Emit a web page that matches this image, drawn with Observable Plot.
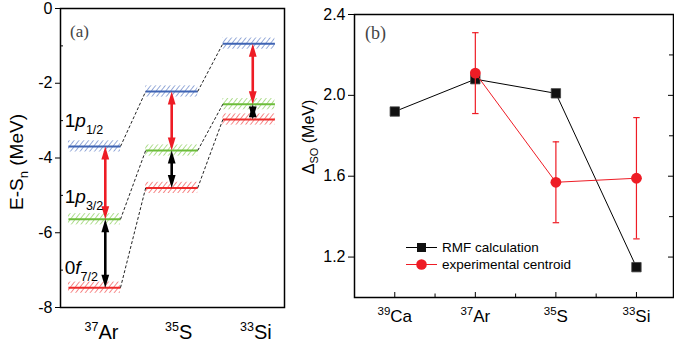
<!DOCTYPE html>
<html>
<head>
<meta charset="utf-8">
<script src="https://cdn.jsdelivr.net/npm/d3@7"></script>
<script src="https://cdn.jsdelivr.net/npm/@observablehq/plot@0.6"></script>
<style>
html,body{margin:0;padding:0;background:#fff;}
#root{position:relative;width:674px;height:347px;overflow:hidden;font-family:"Liberation Sans",Arial,sans-serif;color:#000;}
#root svg.plot{position:absolute;top:0;overflow:visible;}
.ylab{position:absolute;white-space:nowrap;line-height:1;transform:translate(-50%,-50%) rotate(-90deg);}
.tag{position:absolute;font-family:"Liberation Serif","Times New Roman",serif;color:#444;line-height:1;}
.legend{position:absolute;left:406px;top:239px;font-size:13.5px;line-height:17px;}
.legend .row{display:flex;align-items:center;height:17px;}
.legend svg{margin-right:5px;}
</style>
</head>
<body>
<div id="root"></div>
<script>
// ---------- Panel (a): single-particle levels (E - S_n, MeV) ----------
const nucleiA = ["37Ar", "35S", "33Si"];
const massA = ["37", "35", "33"];
const elementA = ["Ar", "S", "Si"];
const levelNames = ["1p1/2", "1p3/2", "0f7/2"];
const levelMain = ["1p", "1p", "0f"];
const levelSub = ["1/2", "3/2", "7/2"];
const level1p12 = [-3.69, -2.22, -0.94];
const level1p32 = [-5.64, -3.80, -2.56];
const level0f72 = [-7.47, -4.80, -2.97];
const yTicksA = [0, -2, -4, -6, -8];
const yMinorA = [-1, -3, -5, -7];

// ---------- Panel (b): spin-orbit splitting Delta_SO (MeV) ----------
const nucleiB = ["39Ca", "37Ar", "35S", "33Si"];
const massB = ["39", "37", "35", "33"];
const elementB = ["Ca", "Ar", "S", "Si"];
const rmfDelta = [1.92, 2.08, 2.01, 1.15];
const expNuclei = ["37Ar", "35S", "33Si"];
const expDelta = [2.11, 1.57, 1.59];
const expError = [0.20, 0.20, 0.30];
const yTicksB = [1.2, 1.6, 2.0, 2.4];
const yMinorB = [1.4, 1.8, 2.2];
const seriesNames = ["RMF calculation", "experimental centroid"];

// ---------- styling / layout constants ----------
const levelLine = ["#3f64b4", "#6cbd3a", "#ee2a2a"];
const levelHatch = ["#5f7ec4", "#86cc55", "#f24a4a"];
const arrowRed = "#ee1c25";
const HW = 0.337, BAND = 0.15;
const arrowShift = [0.14, 0, 0.05];
const labelDy = [-19, -16, -14];

const levelArrays = [level1p12, level1p32, level0f72];
const levels = [];
levelArrays.forEach((arr, k) => arr.forEach((v, i) => levels.push({k, i, v, name: levelNames[k]})));
const connectors = [];
levelArrays.forEach((arr, k) => {
  for (let i = 0; i < arr.length - 1; i++)
    connectors.push({k, x1: i + HW, y1: arr[i], x2: i + 1 - HW, y2: arr[i + 1]});
});
const arrows = [];
nucleiA.forEach((n, i) => {
  arrows.push({i, top: level1p12[i], bottom: level1p32[i], color: arrowRed});
  arrows.push({i, top: level1p32[i], bottom: level0f72[i], color: "#000"});
});
const headUp = {draw(ctx) { ctx.moveTo(0, 0); ctx.lineTo(3.9, 13); ctx.lineTo(-3.9, 13); ctx.closePath(); }};
const headDown = {draw(ctx) { ctx.moveTo(0, 0); ctx.lineTo(3.9, -13); ctx.lineTo(-3.9, -13); ctx.closePath(); }};
const shrink = 0.15;

const root = document.getElementById("root");

function textNodes(svg, label) {
  return Array.from(svg.querySelectorAll(`[aria-description="${label}"] text`));
}

const HA = 347, MTa = 8, MBa = 40, WA = 300, MLa = 60, MRa = 16;
const svgA = Plot.plot({
  width: WA, height: HA, marginLeft: MLa, marginRight: MRa, marginTop: MTa, marginBottom: MBa,
  style: {fontFamily: "Liberation Sans, Arial, sans-serif", fontSize: "16px", color: "#000", background: "transparent"},
  x: {domain: [-0.44, 2.461], axis: null},
  y: {domain: [-8, 0], axis: null},
  marks: [
    ...[0, 1, 2].map(k => Plot.rect(levels.filter(d => d.k === k), {
      x1: d => d.i - HW, x2: d => d.i + HW, y1: d => d.v - BAND, y2: d => d.v + BAND, fill: `url(#hatch-${k})`
    })),
    Plot.link(levels, {x1: d => d.i - HW, x2: d => d.i + HW, y1: d => d.v, y2: d => d.v,
      stroke: d => levelLine[d.k], strokeWidth: 2}),
    Plot.link(connectors, {x1: "x1", y1: "y1", x2: "x2", y2: "y2", stroke: "#222", strokeWidth: 1, strokeDasharray: "3,2"}),
    Plot.link(arrows, {x1: d => d.i + arrowShift[d.i], x2: d => d.i + arrowShift[d.i],
      y1: d => d.top - Math.min(shrink, (d.top - d.bottom) / 3), y2: d => d.bottom + Math.min(shrink, (d.top - d.bottom) / 3),
      stroke: d => d.color, strokeWidth: 2.6}),
    Plot.dot(arrows, {x: d => d.i + arrowShift[d.i], y: "top", symbol: headUp, fill: d => d.color, stroke: "none"}),
    Plot.dot(arrows, {x: d => d.i + arrowShift[d.i], y: "bottom", symbol: headDown, fill: d => d.color, stroke: "none"}),
    Plot.axisY({ticks: yTicksA, tickFormat: d => String(d), tickSize: 5, tickPadding: 3, fontSize: 16, label: null}),
    Plot.tickY(yMinorA, {y: d => d, insetRight: (WA - MLa - MRa) - 3, stroke: "#000"}),
    Plot.frame({stroke: "#000", strokeWidth: 1.5}),
    ...[0, 1, 2].map(k => Plot.text([levelArrays[k][0]], {
      x: -0.385, y: d => d, text: () => levelMain[k], dy: labelDy[k], textAnchor: "start", lineAnchor: "bottom",
      fontSize: 19, ariaDescription: `level-label-${k}`
    })),
    Plot.text(nucleiA, {x: (d, i) => i, frameAnchor: "bottom", dy: 31, dx: 7, lineAnchor: "bottom",
      textAnchor: "middle", fontSize: 20, ariaDescription: "cat-a"})
  ]
});
svgA.classList.add("plot");
svgA.style.left = "0px";

// hatch patterns
const defs = d3.select(svgA).insert("defs", ":first-child");
levelHatch.forEach((c, k) => {
  const p = defs.append("pattern").attr("id", `hatch-${k}`).attr("width", 3.8).attr("height", 4)
    .attr("patternUnits", "userSpaceOnUse").attr("patternTransform", "rotate(38)");
  p.append("line").attr("x1", 0).attr("y1", 0).attr("x2", 0).attr("y2", 4)
    .attr("stroke", c).attr("stroke-width", 1.3);
});

// level labels with italic orbital letter and subscript
[0, 1, 2].forEach(k => {
  textNodes(svgA, `level-label-${k}`).forEach(node => {
    const t = d3.select(node);
    t.text(null);
    t.append("tspan").text(levelMain[k][0]);
    t.append("tspan").attr("font-style", "italic").text(levelMain[k][1]);
    t.append("tspan").attr("font-size", 12.5).attr("dy", 7).text(levelSub[k]);
  });
});
function superscriptLabels(svg, name, mass, elem, supSize, shift) {
  textNodes(svg, name).forEach((node, j) => {
    const t = d3.select(node);
    t.text(null);
    t.append("tspan").attr("font-size", supSize).attr("dy", -shift).text(mass[j]);
    t.append("tspan").attr("dy", shift).text(elem[j]);
  });
}
superscriptLabels(svgA, "cat-a", massA, elementA, 12.5, 8);
root.appendChild(svgA);

// ---------- Panel (b) ----------
const rmfData = nucleiB.map((n, i) => ({i, v: rmfDelta[i]}));
const expData = expNuclei.map((n, j) => ({i: nucleiB.indexOf(n), v: expDelta[j], e: expError[j]}));
const HB = 347, MTb = 14, MBb = 50, WB = 374, MLb = 54, MRb = 1;
const plotHb = HB - MTb - MBb, plotWb = WB - MLb - MRb;
const svgB = Plot.plot({
  width: WB, height: HB, marginLeft: MLb, marginRight: MRb, marginTop: MTb, marginBottom: MBb,
  style: {fontFamily: "Liberation Sans, Arial, sans-serif", fontSize: "16px", color: "#000", background: "transparent"},
  x: {domain: [-0.5, 3.46], axis: null},
  y: {domain: [1.0, 2.4], axis: null},
  marks: [
    Plot.axisY({ticks: yTicksB, tickFormat: d3.format(".1f"), tickSize: 6, tickPadding: 3, fontSize: 16, label: null}),
    Plot.tickY(yTicksB, {y: d => d, insetLeft: plotWb - 5, stroke: "#000"}),
    Plot.tickY(yMinorB, {y: d => d, insetLeft: plotWb - 4, stroke: "#000"}),
    Plot.tickX([0, 1, 2, 3], {x: d => d, insetTop: plotHb - 5, stroke: "#000"}),
    Plot.tickX([0.5, 1.5, 2.5], {x: d => d, insetTop: plotHb - 3.5, stroke: "#000"}),
    Plot.line(rmfData, {x: "i", y: "v", stroke: "#000", strokeWidth: 1}),
    Plot.dot(rmfData, {x: "i", y: "v", symbol: "square", r: 5.3, fill: "#111", stroke: "#444", strokeWidth: 0.8}),
    Plot.line(expData, {x: "i", y: "v", stroke: arrowRed, strokeWidth: 1}),
    Plot.ruleX(expData, {x: "i", y1: d => d.v - d.e, y2: d => d.v + d.e, stroke: arrowRed, strokeWidth: 1.2}),
    Plot.link(expData, {x1: d => d.i - 0.04, x2: d => d.i + 0.04, y1: d => d.v - d.e, y2: d => d.v - d.e, stroke: arrowRed, strokeWidth: 1.2}),
    Plot.link(expData, {x1: d => d.i - 0.04, x2: d => d.i + 0.04, y1: d => d.v + d.e, y2: d => d.v + d.e, stroke: arrowRed, strokeWidth: 1.2}),
    Plot.dot(expData, {x: "i", y: "v", r: 5.4, fill: arrowRed, stroke: "none"}),
    Plot.frame({stroke: "#000", strokeWidth: 1.5}),
    Plot.text(nucleiB, {x: (d, i) => i, frameAnchor: "bottom", dy: 24, lineAnchor: "bottom",
      textAnchor: "middle", fontSize: 17, ariaDescription: "cat-b"})
  ]
});
svgB.classList.add("plot");
svgB.style.left = "300px";
superscriptLabels(svgB, "cat-b", massB, elementB, 11.5, 7);
root.appendChild(svgB);

// ---------- axis titles, panel tags, legend ----------
function addDiv(cls, html, css) {
  const d = document.createElement("div");
  d.className = cls; d.innerHTML = html; Object.assign(d.style, css); root.appendChild(d); return d;
}
addDiv("ylab", 'E-S<span style="font-size:13px;position:relative;top:5px">n</span> (MeV)', {left: "16px", top: "162px", fontSize: "19px"});
addDiv("ylab", 'Δ<span style="font-size:11px;position:relative;top:4px">SO</span> (MeV)', {left: "309px", top: "137px", fontSize: "16px"});
addDiv("tag", "(a)", {left: "70px", top: "23px", fontSize: "17px"});
addDiv("tag", "(b)", {left: "365px", top: "24px", fontSize: "18px"});

const legend = addDiv("legend", "", {});
const legendStyles = [
  {stroke: "#000", marker: '<rect x="11" y="2" width="9" height="9" fill="#111"/>'},
  {stroke: arrowRed, marker: `<circle cx="15.5" cy="6.5" r="5.3" fill="${arrowRed}"/>`}
];
seriesNames.forEach((name, j) => {
  const row = document.createElement("div");
  row.className = "row";
  row.innerHTML = `<svg width="31" height="13"><line x1="0" y1="6.5" x2="31" y2="6.5" stroke="${legendStyles[j].stroke}" stroke-width="1"/>${legendStyles[j].marker}</svg><span>${name}</span>`;
  legend.appendChild(row);
});
</script>
</body>
</html>
